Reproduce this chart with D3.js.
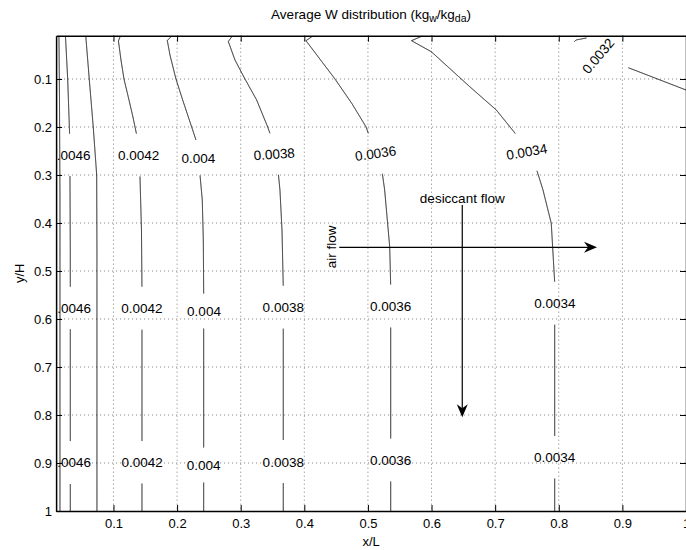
<!DOCTYPE html>
<html lang="en">
<head>
<meta charset="UTF-8">
<title>Average W distribution</title>
<script src="https://cdn.jsdelivr.net/npm/d3@7"></script>
<style>
  body { margin: 0; background: #fff; }
  svg text { font-family: "Liberation Sans", Arial, Helvetica, sans-serif; fill: #000; }
</style>
</head>
<body>
<script>

// ---- values (x/L, y/H) ----
var xTicks = [0.1, 0.2, 0.3, 0.4, 0.5, 0.6, 0.7, 0.8, 0.9, 1];
var yTicks = [0.1, 0.2, 0.3, 0.4, 0.5, 0.6, 0.7, 0.8, 0.9, 1];

// contour lines, one array of [x/L, y/H] points per level
var c0048 = [[0.0143,0.0098],[0.0151,0.14],[0.0159,0.35],[0.0159,1]];
var c0046 = [[0.0245,0.0098],[0.0280,0.10],[0.0311,0.217],[0.0316,0.30],[0.0321,0.46],[0.0321,1]];
var c0044 = [[0.0564,0.0098],[0.0619,0.10],[0.0682,0.20],[0.0736,0.30],[0.0740,0.456],[0.0740,1]];
var c0042 = [[0.1110,0.0098],[0.1078,0.0208],[0.1118,0.0604],[0.1165,0.10],[0.1244,0.1438],[0.1306,0.1792],
             [0.1365,0.2167],[0.1416,0.30],[0.1440,0.4146],[0.1448,0.54],[0.1448,1]];
var c0040 = [[0.1920,0.0098],[0.1846,0.0198],[0.1888,0.05],[0.1982,0.10],[0.2088,0.1438],[0.2229,0.20],
             [0.2297,0.2271],[0.2360,0.30],[0.2396,0.352],[0.2412,0.4354],[0.2418,0.548],[0.2418,1]];
var c0038 = [[0.2871,0.0098],[0.2805,0.0219],[0.2910,0.0604],[0.3067,0.10],[0.3251,0.1438],[0.3424,0.20],
             [0.3460,0.2131],[0.3591,0.2965],[0.3617,0.3313],[0.3649,0.4146],[0.3669,0.5327],[0.3669,1]];
var c0036 = [[0.4141,0.0098],[0.4026,0.0202],[0.4482,0.10],[0.4745,0.1506],[0.4969,0.1994],[0.5006,0.2131],
             [0.5226,0.2965],[0.5263,0.3313],[0.5342,0.4494],[0.5358,0.5313],[0.5358,1]];
var c0034 = [[0.5865,0.0098],[0.5685,0.0202],[0.5996,0.0431],[0.6600,0.116],[0.7018,0.1646],[0.7307,0.2119],
             [0.7662,0.2931],[0.7752,0.3313],[0.7882,0.4006],[0.7936,0.5244],[0.7936,1]];
var c0032a = [[0.8244,0.0223],[0.8270,0.0188],[0.8596,0.0104]];
var c0032b = [[0.9093,0.0765],[1.0,0.1229],[1.02,0.131]];

var contourLines = [
    {level: 0.0048, pts: c0048}, {level: 0.0046, pts: c0046}, {level: 0.0044, pts: c0044},
    {level: 0.0042, pts: c0042}, {level: 0.004,  pts: c0040}, {level: 0.0038, pts: c0038},
    {level: 0.0036, pts: c0036}, {level: 0.0034, pts: c0034},
    {level: 0.0032, pts: c0032a}, {level: 0.0032, pts: c0032b}
];

// inline contour labels: [level, x/L, y/H, angle]
var contourLabels = [
    [0.0046, 0.0314, 0.258, 0], [0.0046, 0.0321, 0.577, 0], [0.0046, 0.0321, 0.899, 0],
    [0.0042, 0.1396, 0.2583, 0], [0.0042, 0.1448, 0.5777, 0], [0.0042, 0.1451, 0.8985, 0],
    [0.004, 0.2333, 0.264, 0], [0.004, 0.2423, 0.5833, 0], [0.004, 0.2418, 0.9042, 0],
    [0.0038, 0.3526, 0.2563, -4], [0.0038, 0.3669, 0.5756, 0], [0.0038, 0.3669, 0.8973, 0],
    [0.0036, 0.5119, 0.2548, -8], [0.0036, 0.5355, 0.5729, 0], [0.0036, 0.5355, 0.8938, 0],
    [0.0034, 0.7496, 0.2515, -10], [0.0034, 0.7940, 0.5673, 0], [0.0034, 0.7936, 0.8881, 0],
    [0.0032, 0.8617, 0.0517, -50]
];

// flow arrows: [x0, y0, x1, y1]
var airArrow = [0.4550, 0.4506, 0.8601, 0.4506];
var desiccantArrow = [0.6483, 0.3625, 0.6483, 0.8048];

// ---- layout ----
var w = 686, h = 550;
var lo = 0.0098;
var pLeft = 56.1, pRight = 686, pTop = 35.7, pBottom = 511;
var fontPx = 13.5;

var x = d3.scaleLinear().domain([lo, 1]).range([pLeft, pRight]);
var y = d3.scaleLinear().domain([lo, 1]).range([pTop, pBottom]);

var svg = d3.select("body").append("svg")
    .attr("width", w)
    .attr("height", h);

svg.append("defs").append("clipPath")
    .attr("id", "plotClip")
    .append("rect")
    .attr("x", pLeft).attr("y", pTop)
    .attr("width", pRight - pLeft).attr("height", pBottom - pTop);

// dotted grid
var grid = svg.append("g").attr("stroke", "#444").attr("stroke-width", 0.7)
    .attr("stroke-dasharray", "1,3");
grid.selectAll("line.gx")
    .data(xTicks.filter(function(d) { return d < 1; }))
    .enter().append("line")
    .attr("x1", function(d) { return x(d); })
    .attr("x2", function(d) { return x(d); })
    .attr("y1", pTop).attr("y2", pBottom);
grid.selectAll("line.gy")
    .data(yTicks.filter(function(d) { return d < 1; }))
    .enter().append("line")
    .attr("y1", function(d) { return y(d); })
    .attr("y2", function(d) { return y(d); })
    .attr("x1", pLeft).attr("x2", pRight);

var plot = svg.append("g").attr("clip-path", "url(#plotClip)");
var lineLayer = plot.append("g");
var labelLayer = plot.append("g");

// contour labels first, so their widths are known for the gaps
var labelNodes = labelLayer.selectAll("text")
    .data(contourLabels)
    .enter().append("text")
    .attr("transform", function(d) {
        return "translate(" + x(d[1]) + "," + y(d[2]) + ") rotate(" + d[3] + ")";
    })
    .attr("text-anchor", "middle")
    .attr("dy", "0.36em")
    .attr("font-size", fontPx + "px")
    .text(function(d) { return String(d[0]); });

var gaps = [];
labelNodes.each(function(d) {
    gaps.push({level: d[0], cx: x(d[1]), cy: y(d[2]), r: this.getComputedTextLength() / 2 + 0.5});
});

// split a polyline (pixel space) wherever it passes under a label of its own level
function cutGaps(pts, circles) {
    var runs = [], cur = [];
    function outside(p) {
        return circles.every(function(c) {
            return Math.hypot(p[0] - c.cx, p[1] - c.cy) >= c.r;
        });
    }
    for (var i = 0; i < pts.length - 1; i++) {
        var a = pts[i], b = pts[i + 1];
        var n = Math.max(1, Math.ceil(Math.hypot(b[0] - a[0], b[1] - a[1]) / 0.5));
        for (var k = (i === 0 ? 0 : 1); k <= n; k++) {
            var p = [a[0] + (b[0] - a[0]) * k / n, a[1] + (b[1] - a[1]) * k / n];
            if (outside(p)) cur.push(p);
            else { if (cur.length > 1) runs.push(cur); cur = []; }
        }
    }
    if (cur.length > 1) runs.push(cur);
    return runs;
}

var line = d3.line();
contourLines.forEach(function(c) {
    var px = c.pts.map(function(p) { return [x(p[0]), y(p[1])]; });
    var own = gaps.filter(function(g) { return g.level === c.level; });
    cutGaps(px, own).forEach(function(run) {
        lineLayer.append("path")
            .attr("d", line(run))
            .attr("fill", "none")
            .attr("stroke", "#111")
            .attr("stroke-width", 1);
    });
});

// axes: ticks point inward on all four sides
var fmt = function(d) { return String(d); };
function styleAxis(g) {
    g.select(".domain").attr("stroke", "#000").attr("stroke-width", 1.5);
    g.selectAll(".tick line").attr("stroke", "#000").attr("stroke-width", 1);
    g.selectAll(".tick text").attr("font-size", "13px").attr("fill", "#000")
        .attr("font-family", "Liberation Sans, Arial, sans-serif");
}
svg.append("g").attr("transform", "translate(0," + pBottom + ")")
    .call(d3.axisBottom(x).tickValues(xTicks).tickFormat(fmt).tickSizeInner(-6).tickSizeOuter(0).tickPadding(8))
    .call(styleAxis);
svg.append("g").attr("transform", "translate(" + pLeft + ",0)")
    .call(d3.axisLeft(y).tickValues(yTicks).tickFormat(fmt).tickSizeInner(-6).tickSizeOuter(0).tickPadding(4))
    .call(styleAxis);
svg.append("g").attr("transform", "translate(0," + pTop + ")")
    .call(d3.axisTop(x).tickValues(xTicks).tickFormat("").tickSizeInner(-6).tickSizeOuter(0))
    .call(styleAxis);
svg.append("g").attr("transform", "translate(" + pRight + ",0)")
    .call(d3.axisRight(y).tickValues(yTicks).tickFormat("").tickSizeInner(-6).tickSizeOuter(0))
    .call(styleAxis);

// flow arrows
function arrow(a) {
    var x0 = x(a[0]), y0 = y(a[1]), x1 = x(a[2]), y1 = y(a[3]);
    var len = Math.hypot(x1 - x0, y1 - y0), ux = (x1 - x0) / len, uy = (y1 - y0) / len;
    var L = 13, W = 5.5, N = 9;
    svg.append("line")
        .attr("x1", x0).attr("y1", y0)
        .attr("x2", x1 - ux * N).attr("y2", y1 - uy * N)
        .attr("stroke", "#000").attr("stroke-width", 1.2);
    var head = [
        [x1, y1],
        [x1 - ux * L - uy * W, y1 - uy * L + ux * W],
        [x1 - ux * N, y1 - uy * N],
        [x1 - ux * L + uy * W, y1 - uy * L - ux * W]
    ];
    svg.append("path").attr("d", "M" + head.join("L") + "Z").attr("fill", "#000");
}
arrow(airArrow);
arrow(desiccantArrow);

svg.append("text")
    .attr("x", x(desiccantArrow[0])).attr("y", y(desiccantArrow[1]) - 2)
    .attr("text-anchor", "middle")
    .attr("font-size", fontPx + "px")
    .text("desiccant flow");

svg.append("text")
    .attr("transform", "translate(" + (x(airArrow[0]) - 3) + "," + y(airArrow[1] - 0.001) + ") rotate(-90)")
    .attr("text-anchor", "middle")
    .attr("font-size", fontPx + "px")
    .text("air flow");

// title with subscripts
var title = svg.append("text")
    .attr("x", (pLeft + pRight) / 2).attr("y", 18.5)
    .attr("text-anchor", "middle")
    .attr("font-size", "13.5px");
title.append("tspan").text("Average W distribution (kg");
title.append("tspan").attr("font-size", "10.5px").attr("dy", 3.5).text("w");
title.append("tspan").attr("dy", -3.5).text("/kg");
title.append("tspan").attr("font-size", "10.5px").attr("dy", 3.5).text("da");
title.append("tspan").attr("dy", -3.5).text(")");

// axis titles
svg.append("text")
    .attr("x", (pLeft + pRight) / 2).attr("y", 545.5)
    .attr("text-anchor", "middle")
    .attr("font-size", "13px")
    .text("x/L");
svg.append("text")
    .attr("transform", "translate(24," + (pTop + pBottom) / 2 + ") rotate(-90)")
    .attr("text-anchor", "middle")
    .attr("font-size", "13px")
    .text("y/H");

</script>
</body>
</html>
